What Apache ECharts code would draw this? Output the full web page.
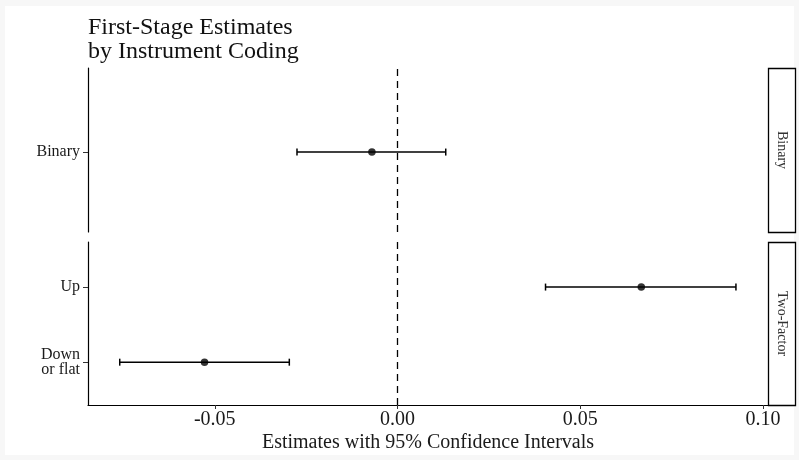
<!DOCTYPE html>
<html>
<head>
<meta charset="utf-8">
<script src="https://cdn.jsdelivr.net/npm/echarts@6/dist/echarts.min.js"></script>
<style>
  html, body { margin: 0; padding: 0; background: #f7f7f7; }
  #chart { width: 799px; height: 460px; }
</style>
</head>
<body>
<div id="chart"></div>
<script>
// facets and terms (level 1 = bottom row inside a facet)
var panels = ['Binary', 'Two-Factor'];
var terms = ['Binary', 'Up', 'Down\nor flat'];
var termPanel = [0, 1, 1];
var termLevel = [1, 2, 1];
var estimates = [-0.0070, 0.0667, -0.0528];
var lower = [-0.0275, 0.0405, -0.0760];
var upper = [0.0132, 0.0926, -0.0296];
var xTicks = [-0.05, 0.00, 0.05, 0.10];

var FONT = '"Liberation Serif", "DejaVu Serif", serif';
var GL = 88, GR = 768;
var panelTop = [68, 242], panelH = [164, 163];
var yRange = [[0.415, 1.615], [0.43, 2.6]];
var xMin = -0.08468, xMax = 0.10137;

var chart = echarts.init(document.getElementById('chart'));

var grids = [], xAxes = [], yAxes = [], series = [], graphics = [];

graphics.push({
  type: 'rect', z: -10, silent: true,
  shape: {x: 5, y: 6, width: 789, height: 449},
  style: {fill: '#ffffff'}
});

panels.forEach(function(name, p) {
  var bottom = p === panels.length - 1;
  grids.push({left: GL, width: GR - GL, top: panelTop[p], height: panelH[p]});

  xAxes.push({
    type: 'value', gridIndex: p, min: xMin, max: xMax,
    name: bottom ? 'Estimates with 95% Confidence Intervals' : '',
    nameLocation: 'middle', nameGap: 28,
    nameTextStyle: {fontFamily: FONT, fontSize: 20, color: '#1a1a1a'},
    axisLine: {show: bottom, onZero: false, lineStyle: {color: '#000', width: 1.2}},
    axisTick: {show: bottom, length: 4, customValues: xTicks, lineStyle: {color: '#333', width: 1}},
    axisLabel: {show: bottom, customValues: xTicks, margin: 5, fontFamily: FONT, fontSize: 20, color: '#1a1a1a',
      formatter: function(v) { return v.toFixed(2); }},
    splitLine: {show: false}
  });

  var levels = [];
  termLevel.forEach(function(l, i) { if (termPanel[i] === p) levels.push(l); });
  yAxes.push({
    type: 'value', gridIndex: p, min: yRange[p][0], max: yRange[p][1],
    axisLine: {show: true, onZero: false, lineStyle: {color: '#000', width: 1.2}},
    axisTick: {show: true, length: 5, customValues: levels, lineStyle: {color: '#333', width: 1}},
    axisLabel: {customValues: levels, margin: 8, fontFamily: FONT, fontSize: 16, lineHeight: 15, color: '#1a1a1a',
      formatter: function(v) {
        for (var i = 0; i < terms.length; i++) {
          if (termPanel[i] === p && termLevel[i] === Math.round(v)) return terms[i];
        }
        return '';
      }},
    splitLine: {show: false}
  });

  var bars = [], pts = [];
  terms.forEach(function(t, i) {
    if (termPanel[i] !== p) return;
    bars.push([lower[i], upper[i], termLevel[i]]);
    pts.push([estimates[i], termLevel[i]]);
  });

  series.push({
    type: 'custom', xAxisIndex: p, yAxisIndex: p, silent: true, z: 3,
    data: bars,
    renderItem: function(params, api) {
      var a = api.coord([api.value(0), api.value(2)]);
      var b = api.coord([api.value(1), api.value(2)]);
      var h = 3.5;
      var st = {stroke: '#000', lineWidth: 1.5, fill: null};
      return {type: 'group', children: [
        {type: 'line', shape: {x1: a[0], y1: a[1], x2: b[0], y2: b[1]}, style: st},
        {type: 'line', shape: {x1: a[0], y1: a[1] - h, x2: a[0], y2: a[1] + h}, style: st},
        {type: 'line', shape: {x1: b[0], y1: b[1] - h, x2: b[0], y2: b[1] + h}, style: st}
      ]};
    }
  });

  series.push({
    type: 'scatter', xAxisIndex: p, yAxisIndex: p, silent: true, z: 4,
    symbol: 'circle', symbolSize: 7.5,
    itemStyle: {color: '#000'},
    data: pts,
    markLine: {
      silent: true, symbol: 'none', label: {show: false},
      lineStyle: {color: '#000', width: 1.3, type: [7, 5]},
      data: [{xAxis: 0}]
    }
  });

  // facet strip on the right
  graphics.push({
    type: 'rect', silent: true,
    shape: {x: GR + 0.5, y: panelTop[p] + 0.5, width: 27, height: panelH[p]},
    style: {fill: '#fff', stroke: '#000', lineWidth: 1.3}
  });
  graphics.push({
    type: 'text', silent: true,
    x: GR + 14, y: panelTop[p] + panelH[p] / 2,
    rotation: -Math.PI / 2,
    style: {text: name, fontFamily: FONT, fontSize: 14, fill: '#333',
      align: 'center', verticalAlign: 'middle'}
  });
});

chart.setOption({
  animation: false,
  backgroundColor: '#f7f7f7',
  title: {
    text: 'First-Stage Estimates\nby Instrument Coding',
    left: GL - 5, top: 11,
    textStyle: {fontFamily: FONT, fontSize: 24, lineHeight: 23.5, fontWeight: 'normal', color: '#111'}
  },
  grid: grids,
  xAxis: xAxes,
  yAxis: yAxes,
  series: series,
  graphic: graphics
});
</script>
</body>
</html>
